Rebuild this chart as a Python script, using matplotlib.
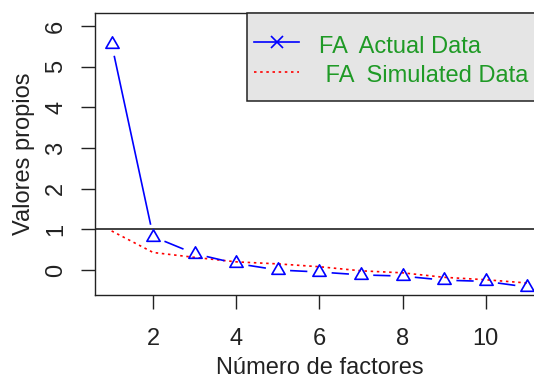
import numpy as np
import matplotlib
matplotlib.use("Agg")
import matplotlib.pyplot as plt
from matplotlib.path import Path
from matplotlib.patches import Rectangle
from matplotlib.lines import Line2D

plt.rcParams['font.family'] = ['Liberation Sans', 'DejaVu Sans']

# ---- data ----
factors = [1, 2, 3, 4, 5, 6, 7, 8, 9, 10, 11]
actual = [5.56, 0.82, 0.40, 0.16, 0.00, -0.05, -0.12, -0.15, -0.25, -0.28, -0.42]
simulated = [0.96, 0.43, 0.31, 0.20, 0.15, 0.08, -0.02, -0.07, -0.18, -0.24, -0.32]
xticks = [2, 4, 6, 8, 10]
yticks = [0, 1, 2, 3, 4, 5, 6]
legend_labels = ["FA  Actual Data", " FA  Simulated Data"]
xlabel = "Número de factores"
ylabel = "Valores propios"

W, H = 534, 378
fig = plt.figure(figsize=(W / 100, H / 100), dpi=100)
ax_l, ax_r, ax_t, ax_b = 95, 544, 13, 295
ax = fig.add_axes([ax_l / W, (H - ax_b) / H, (ax_r - ax_l) / W, (ax_b - ax_t) / H])
ax.set_xlim(0.6, 11.4)
ax.set_ylim(-0.615, 6.32)

# horizontal reference line
ax.axhline(1, color='#333333', lw=1.3, zorder=2)

# simulated data (red dotted)
ax.plot(factors, simulated, color='red', lw=1.2, ls=(0, (1.5, 2.2)), zorder=3)

# actual data: R type="b" -> segments with gaps around points
gap = 13.0  # px
pts = ax.transData.transform(np.column_stack([factors, actual]))
inv = ax.transData.inverted()
for i in range(len(pts) - 1):
    p0, p1 = pts[i], pts[i + 1]
    d = p1 - p0
    L = np.hypot(*d)
    if L > 2 * gap:
        u = d / L
        a = inv.transform(p0 + u * gap)
        b = inv.transform(p1 - u * gap)
        ax.plot([a[0], b[0]], [a[1], b[1]], color='blue', lw=1.2, zorder=4)

tri = Path([(0, 1), (-0.866, -0.5), (0.866, -0.5), (0, 1)],
           [Path.MOVETO, Path.LINETO, Path.LINETO, Path.CLOSEPOLY])
ax.plot(factors, actual, ls='none', marker=tri, ms=11, mfc='none',
        mec='blue', mew=1.2, zorder=4)

# axes styling
for s in ax.spines.values():
    s.set_linewidth(1.0)
    s.set_color('#222222')
ax.set_xticks(xticks)
ax.set_yticks(yticks)
ax.tick_params(axis='both', direction='out', length=10, width=1.0,
               color='#222222', labelsize=17, labelcolor='#222222')
ax.tick_params(axis='x', pad=14)
ax.tick_params(axis='y', pad=10)
for lab in ax.get_yticklabels():
    lab.set_rotation(90)
    lab.set_va('center')

ax.set_xlabel(xlabel, fontsize=17, color='#222222')
ax.set_ylabel(ylabel, fontsize=17, color='#222222')
ax.xaxis.set_label_coords(0.5, (ax_b - 357) / (ax_b - ax_t))
ax.yaxis.set_label_coords((35 - ax_l) / (ax_r - ax_l), 0.5)

# legend (drawn manually as in R's legend box)
def ax_x(px):
    return (px - ax_l) / (ax_r - ax_l)

def ax_y(py):
    return (ax_b - py) / (ax_b - ax_t)

leg_l, leg_t, leg_b = 247, 13, 101
ax.add_patch(Rectangle((ax_x(leg_l), ax_y(leg_b)), 1 - ax_x(leg_l),
                       ax_y(leg_t) - ax_y(leg_b), transform=ax.transAxes,
                       facecolor='#e5e5e5', edgecolor='#222222', lw=1.1,
                       zorder=6, clip_on=False))
green = '#1f9a26'
ax.add_line(Line2D([ax_x(254), ax_x(299)], [ax_y(42.3)] * 2, color='blue',
                   lw=1.2, transform=ax.transAxes, zorder=7))
ax.add_line(Line2D([ax_x(276.5)], [ax_y(42.3)], color='blue', marker='x',
                   ms=8, mew=1.2, transform=ax.transAxes, zorder=7))
ax.add_line(Line2D([ax_x(254), ax_x(299)], [ax_y(71.7)] * 2, color='red',
                   lw=1.2, ls=(0, (1.5, 2.2)), transform=ax.transAxes, zorder=7))
ax.text(ax_x(319), ax_y(53), legend_labels[0], transform=ax.transAxes,
        fontsize=17, color=green, va='baseline', ha='left', zorder=8)
ax.text(ax_x(319), ax_y(81.7), legend_labels[1], transform=ax.transAxes,
        fontsize=17, color=green, va='baseline', ha='left', zorder=8)

fig.savefig('out.png', dpi=100)
